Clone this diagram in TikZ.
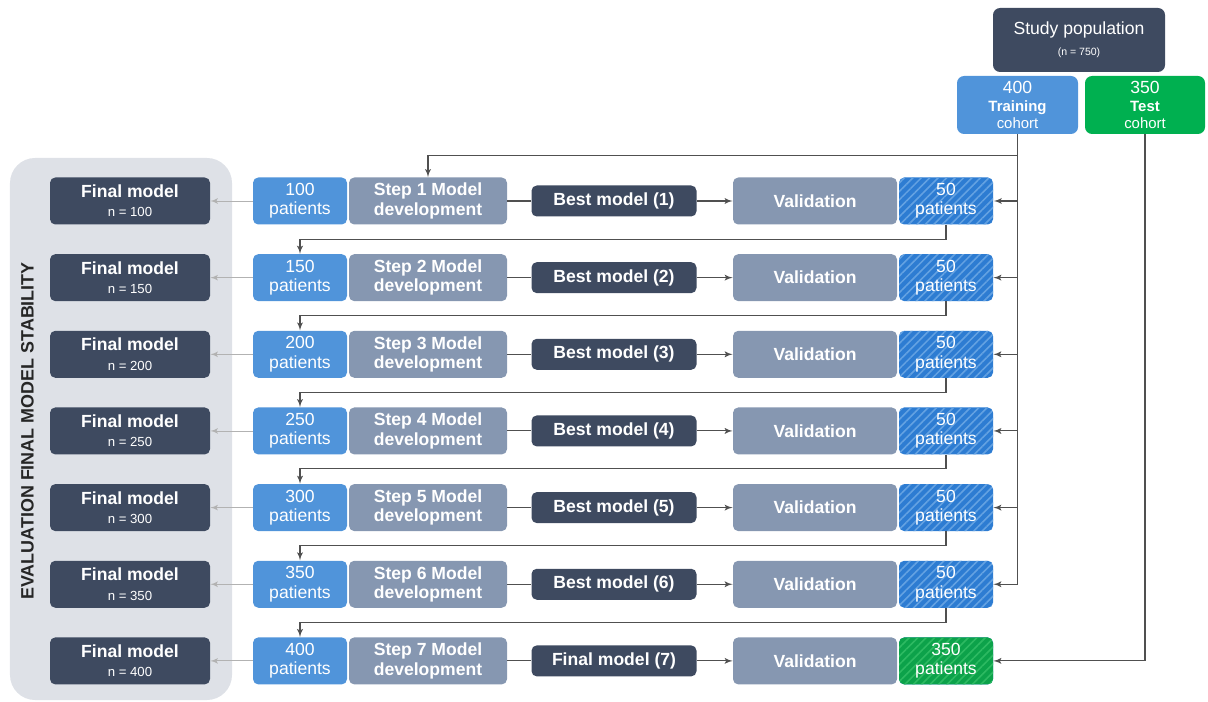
\documentclass[tikz,border=0pt]{standalone}
\usepackage{fontspec}
\setmainfont{Liberation Sans}
\usetikzlibrary{shapes,arrows,patterns.meta}

\definecolor{navy}{RGB}{62,74,96}
\definecolor{cblue}{RGB}{80,148,218}
\definecolor{cgray}{RGB}{134,151,177}
\definecolor{cgreen}{RGB}{0,176,80}
\definecolor{hblue}{RGB}{45,124,210}
\definecolor{hbluelight}{RGB}{100,162,226}
\definecolor{hgreen}{RGB}{12,162,74}
\definecolor{hgreenlight}{RGB}{45,186,98}
\definecolor{bggray}{RGB}{222,225,231}
\definecolor{linegray}{RGB}{80,80,80}

\tikzstyle{final} = [rectangle, fill=navy, text=white, font=\bfseries\fontsize{10}{11}\selectfont,
    align=center, rounded corners=3pt, minimum width=3.2cm, minimum height=0.94cm, inner sep=0pt]
\tikzstyle{patients} = [rectangle, fill=cblue, text=white, font=\fontsize{10}{11}\selectfont,
    align=center, rounded corners=3pt, minimum width=1.88cm, minimum height=0.94cm, inner sep=0pt]
\tikzstyle{devel} = [rectangle, fill=cgray, text=white, font=\bfseries\fontsize{10}{11}\selectfont,
    align=center, rounded corners=3pt, minimum width=3.16cm, minimum height=0.94cm, inner sep=0pt]
\tikzstyle{best} = [rectangle, fill=navy, text=white, font=\bfseries\fontsize{10}{11}\selectfont,
    rounded corners=3pt, minimum width=3.3cm, minimum height=0.62cm, inner sep=0pt]
\tikzstyle{valid} = [devel, minimum width=3.28cm]
\tikzstyle{hatchblue} = [rectangle, preaction={fill=hblue},
    pattern={Lines[angle=45, distance=3.4pt, line width=0.9pt]}, pattern color=hbluelight,
    text=white, font=\fontsize{10}{11}\selectfont,
    align=center, rounded corners=3pt, minimum width=1.88cm, minimum height=0.94cm, inner sep=0pt]
\tikzstyle{hatchgreen} = [hatchblue, preaction={fill=hgreen}, pattern color=hgreenlight]
\tikzstyle{line} = [draw, color=linegray, line width=0.6pt, -latex']
\tikzstyle{plain} = [draw, color=linegray, line width=0.6pt]
\tikzstyle{faint} = [draw, color=black!30, line width=0.5pt, -latex']

\begin{document}
\begin{tikzpicture}[node distance = 1.533cm]
    \useasboundingbox (0,0) rectangle (24.16,-14.04);

    % Evaluation panel
    \fill [bggray, rounded corners=0.5cm] (0.2,-3.16) rectangle (4.64,-14.0);
    \node [rotate=90, text=black!85, font=\bfseries\fontsize{10.2}{11}\selectfont] (evallabel) at (0.55,-8.62) {EVALUATION FINAL MODEL STABILITY};

    % Cohorts
    \node [rectangle, fill=navy, text=white, align=center, rounded corners=4pt, minimum width=3.44cm,
        minimum height=1.28cm, inner sep=0pt, font=\fontsize{10}{11}\selectfont] (study) at (21.58,-0.8)
        {Study population\\[1pt]{\fontsize{6}{7}\selectfont (n = 750)}};
    \node [rectangle, fill=cblue, text=white, align=center, rounded corners=4pt, minimum width=2.42cm,
        minimum height=1.16cm, inner sep=0pt, font=\fontsize{8.5}{10.2}\selectfont] (train) at (20.35,-2.1)
        {{\fontsize{10}{10}\selectfont 400}\\\textbf{Training}\\cohort};
    \node [rectangle, fill=cgreen, text=white, align=center, rounded corners=4pt, minimum width=2.4cm,
        minimum height=1.16cm, inner sep=0pt, font=\fontsize{8.5}{10.2}\selectfont] (test) at (22.9,-2.1)
        {{\fontsize{10}{10}\selectfont 350}\\\textbf{Test}\\cohort};

    % Place nodes
    \node [final] (fin1) at (2.6,-4.02) {Final model\\{\normalfont\fontsize{7.5}{9}\selectfont n = 100}};
    \node [final, below of=fin1] (fin2) {Final model\\{\normalfont\fontsize{7.5}{9}\selectfont n = 150}};
    \node [final, below of=fin2] (fin3) {Final model\\{\normalfont\fontsize{7.5}{9}\selectfont n = 200}};
    \node [final, below of=fin3] (fin4) {Final model\\{\normalfont\fontsize{7.5}{9}\selectfont n = 250}};
    \node [final, below of=fin4] (fin5) {Final model\\{\normalfont\fontsize{7.5}{9}\selectfont n = 300}};
    \node [final, below of=fin5] (fin6) {Final model\\{\normalfont\fontsize{7.5}{9}\selectfont n = 350}};
    \node [final, below of=fin6] (fin7) {Final model\\{\normalfont\fontsize{7.5}{9}\selectfont n = 400}};

    \node [patients, right of=fin1, node distance=3.4cm] (pat1) {100\\patients};
    \node [patients, right of=fin2, node distance=3.4cm] (pat2) {150\\patients};
    \node [patients, right of=fin3, node distance=3.4cm] (pat3) {200\\patients};
    \node [patients, right of=fin4, node distance=3.4cm] (pat4) {250\\patients};
    \node [patients, right of=fin5, node distance=3.4cm] (pat5) {300\\patients};
    \node [patients, right of=fin6, node distance=3.4cm] (pat6) {350\\patients};
    \node [patients, right of=fin7, node distance=3.4cm] (pat7) {400\\patients};

    \node [devel, right of=pat1, node distance=2.56cm] (dev1) {Step 1 Model\\development};
    \node [devel, right of=pat2, node distance=2.56cm] (dev2) {Step 2 Model\\development};
    \node [devel, right of=pat3, node distance=2.56cm] (dev3) {Step 3 Model\\development};
    \node [devel, right of=pat4, node distance=2.56cm] (dev4) {Step 4 Model\\development};
    \node [devel, right of=pat5, node distance=2.56cm] (dev5) {Step 5 Model\\development};
    \node [devel, right of=pat6, node distance=2.56cm] (dev6) {Step 6 Model\\development};
    \node [devel, right of=pat7, node distance=2.56cm] (dev7) {Step 7 Model\\development};

    \node [best, right of=dev1, node distance=3.72cm] (best1) {Best model (1)};
    \node [best, right of=dev2, node distance=3.72cm] (best2) {Best model (2)};
    \node [best, right of=dev3, node distance=3.72cm] (best3) {Best model (3)};
    \node [best, right of=dev4, node distance=3.72cm] (best4) {Best model (4)};
    \node [best, right of=dev5, node distance=3.72cm] (best5) {Best model (5)};
    \node [best, right of=dev6, node distance=3.72cm] (best6) {Best model (6)};
    \node [best, right of=dev7, node distance=3.72cm] (best7) {Final model (7)};

    \node [valid, right of=best1, node distance=4.02cm] (val1) {Validation};
    \node [valid, right of=best2, node distance=4.02cm] (val2) {Validation};
    \node [valid, right of=best3, node distance=4.02cm] (val3) {Validation};
    \node [valid, right of=best4, node distance=4.02cm] (val4) {Validation};
    \node [valid, right of=best5, node distance=4.02cm] (val5) {Validation};
    \node [valid, right of=best6, node distance=4.02cm] (val6) {Validation};
    \node [valid, right of=best7, node distance=4.02cm] (val7) {Validation};

    \node [hatchblue, right of=val1, node distance=2.62cm] (hold1) {50\\patients};
    \node [hatchblue, right of=val2, node distance=2.62cm] (hold2) {50\\patients};
    \node [hatchblue, right of=val3, node distance=2.62cm] (hold3) {50\\patients};
    \node [hatchblue, right of=val4, node distance=2.62cm] (hold4) {50\\patients};
    \node [hatchblue, right of=val5, node distance=2.62cm] (hold5) {50\\patients};
    \node [hatchblue, right of=val6, node distance=2.62cm] (hold6) {50\\patients};
    \node [hatchgreen, right of=val7, node distance=2.62cm] (hold7) {350\\patients};

    % Draw edges
    \path [plain] (dev1) -- (best1);  \path [line] (best1) -- (val1);  \path [faint] (pat1) -- (fin1);
    \path [plain] (dev2) -- (best2);  \path [line] (best2) -- (val2);  \path [faint] (pat2) -- (fin2);
    \path [plain] (dev3) -- (best3);  \path [line] (best3) -- (val3);  \path [faint] (pat3) -- (fin3);
    \path [plain] (dev4) -- (best4);  \path [line] (best4) -- (val4);  \path [faint] (pat4) -- (fin4);
    \path [plain] (dev5) -- (best5);  \path [line] (best5) -- (val5);  \path [faint] (pat5) -- (fin5);
    \path [plain] (dev6) -- (best6);  \path [line] (best6) -- (val6);  \path [faint] (pat6) -- (fin6);
    \path [plain] (dev7) -- (best7);  \path [line] (best7) -- (val7);  \path [faint] (pat7) -- (fin7);

    % training cohort feeds
    \path [line] (train.south) -- ++(0,-0.42) -| (dev1.north);
    \path [plain] (train.south) -- (train.south |- hold6.east);
    \path [line] (train.south |- hold1.east) -- (hold1.east);
    \path [line] (train.south |- hold2.east) -- (hold2.east);
    \path [line] (train.south |- hold3.east) -- (hold3.east);
    \path [line] (train.south |- hold4.east) -- (hold4.east);
    \path [line] (train.south |- hold5.east) -- (hold5.east);
    \path [line] (train.south |- hold6.east) -- (hold6.east);
    \path [line] (test.south) |- (hold7.east);

    % validation patients added to the next step
    \path [line] (hold1.south) -- ++(0,-0.28) -| (pat2.north);
    \path [line] (hold2.south) -- ++(0,-0.28) -| (pat3.north);
    \path [line] (hold3.south) -- ++(0,-0.28) -| (pat4.north);
    \path [line] (hold4.south) -- ++(0,-0.28) -| (pat5.north);
    \path [line] (hold5.south) -- ++(0,-0.28) -| (pat6.north);
    \path [line] (hold6.south) -- ++(0,-0.28) -| (pat7.north);
\end{tikzpicture}
\end{document}
